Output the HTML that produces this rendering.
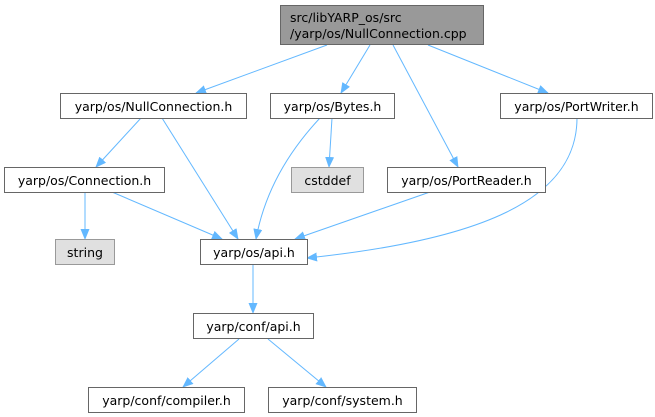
<!DOCTYPE html>
<html><head><meta charset="utf-8"><style>
html,body{margin:0;padding:0;background:#fff;width:655px;height:417px;overflow:hidden}
text{font-family:"DejaVu Sans","Liberation Sans",sans-serif;font-size:12.5px;fill:#000}
</style></head><body>
<svg width="655" height="417" viewBox="0 0 655 417" xmlns="http://www.w3.org/2000/svg">
<defs><marker id="a" markerWidth="11" markerHeight="9" refX="10" refY="4.5" orient="auto" markerUnits="userSpaceOnUse"><path d="M0,0 L11,4.5 L0,9 Z" fill="#63b8ff"/></marker></defs>
<g stroke="#63b8ff" stroke-width="1" fill="none" marker-end="url(#a)">
<path d="M327,45 L196,93"/>
<path d="M370,45 L341,93"/>
<path d="M393,45 L458,167"/>
<path d="M428,45 L548,93"/>
<path d="M141,118 L96,167"/>
<path d="M162,118 L238,239"/>
<path d="M320,118 C290,150 265,190 256,239"/>
<path d="M332,118 L329,167"/>
<path d="M85,192 L85,239"/>
<path d="M112,192 L222,239"/>
<path d="M430,192 L295,239"/>
<path d="M577,118 C577,200 480,240 307,258"/>
<path d="M253,265 L253,313"/>
<path d="M239,339 L183,387"/>
<path d="M268,339 L326,387"/>
</g>
<g stroke="#666" stroke-width="1">
<rect x="280.5" y="5.5" width="203" height="39" fill="#999"/>
<rect x="60.5" y="93.5" width="186" height="25" fill="#fff"/>
<rect x="270.5" y="93.5" width="124" height="25" fill="#fff"/>
<rect x="500.5" y="93.5" width="152" height="25" fill="#fff"/>
<rect x="4.5" y="167.5" width="160" height="25" fill="#fff"/>
<rect x="291.5" y="167.5" width="72" height="25" fill="#e0e0e0" stroke="#999"/>
<rect x="387.5" y="167.5" width="158" height="25" fill="#fff"/>
<rect x="55.5" y="239.5" width="59" height="25" fill="#e0e0e0" stroke="#999"/>
<rect x="200.5" y="239.5" width="107" height="25" fill="#fff"/>
<rect x="193.5" y="313.5" width="120" height="25" fill="#fff"/>
<rect x="88.5" y="387.5" width="156" height="25" fill="#fff"/>
<rect x="268.5" y="387.5" width="148" height="25" fill="#fff"/>
</g>
<text x="290" y="22">src/libYARP_os/src</text>
<text x="290" y="38">/yarp/os/NullConnection.cpp</text>
<g text-anchor="middle">
<text x="153.5" y="111">yarp/os/NullConnection.h</text>
<text x="332.5" y="111">yarp/os/Bytes.h</text>
<text x="576.5" y="111">yarp/os/PortWriter.h</text>
<text x="84.5" y="185">yarp/os/Connection.h</text>
<text x="327.5" y="185">cstddef</text>
<text x="466.5" y="185">yarp/os/PortReader.h</text>
<text x="85" y="257">string</text>
<text x="254" y="257">yarp/os/api.h</text>
<text x="253.5" y="331">yarp/conf/api.h</text>
<text x="166.5" y="405">yarp/conf/compiler.h</text>
<text x="342.5" y="405">yarp/conf/system.h</text>
</g>
</svg>
</body></html>
